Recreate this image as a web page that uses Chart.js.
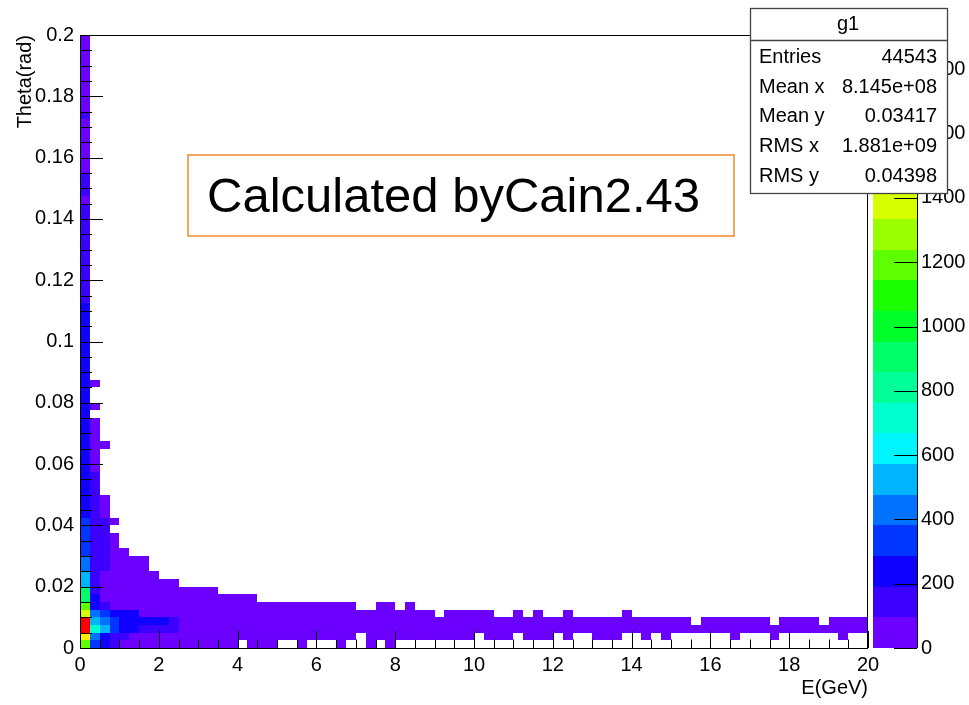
<!DOCTYPE html>
<html>
<head>
<meta charset="utf-8">
<script src="https://cdn.jsdelivr.net/npm/chart.js@4.4.0/dist/chart.umd.min.js"></script>
<style>
  body { margin: 0; background: #fff; }
</style>
</head>
<body>
<canvas id="h2" width="969" height="705"></canvas>
<script>
// g1 : Theta vs E, 80 x 80 bins (0.25 GeV x 0.0025 rad)
const eMax = 20, nE = 80
const thMax = 0.2, nTh = 80
const zMax = 1907
const nLevels = 20

// ROOT palette, one colour per contour level (bottom -> top)
const palette = ['#6b00ff', '#3c00ff', '#1000ff', '#0036ff', '#0072ff', '#00b4ff', '#00f6ff', '#00ffce',
  '#00ff98', '#00ff68', '#00ff2a', '#1cff00', '#5eff00', '#9aff00', '#d6ff00', '#ffee00',
  '#ffb400', '#ff7800', '#ff3c00', '#ff0000']

// counts in the first E bin (0-0.25 GeV), theta bin 0 upward
const firstBin = [1200, 1480, 1816, 1813, 1380, 1200, 880, 860, 520, 510,
  420, 410, 350, 330, 320, 300, 300, 270, 250, 240,
  240, 230, 250, 230, 220, 240, 230, 220, 210, 230,
  220, 210, 200, 220, 210, 200, 210, 195, 200, 205,
  195, 200, 192, 198, 194, 170, 160, 150, 165, 155,
  150, 160, 145, 150, 140, 150, 145, 160, 80, 150,
  140, 135, 90, 85, 80, 75, 70, 85, 80, 110,
  80, 75, 70, 60, 70, 65, 60, 55, 60, 50]

// second E bin (0.25-0.5 GeV), 0 = empty
const secondBin = [330, 420, 700, 520, 430, 230, 220, 150, 150, 150,
  150, 150, 140, 140, 140, 130, 130, 120, 120, 110,
  110, 100, 100, 80, 70, 70, 60, 50, 50, 40,
  0, 40, 0, 0, 30]

// third E bin (0.5-0.75 GeV)
const thirdBin = [230, 230, 520, 430, 330, 150, 60, 60, 60, 60,
  120, 120, 110, 110, 100, 100, 100, 60, 50, 50,
  0, 0, 0, 0, 0, 0, 30]

// the rest: [theta bin, first E bin, last E bin, count]
const runs = [
  [0, 3, 3, 150], [0, 4, 4, 60], [0, 5, 15, 40], [0, 17, 19, 30], [0, 22, 22, 25], [0, 26, 26, 20], [0, 29, 29, 15], [0, 31, 31, 20],
  [1, 3, 4, 150], [1, 5, 5, 60], [1, 6, 27, 40], [1, 29, 39, 30], [1, 41, 43, 25], [1, 45, 47, 25], [1, 49, 49, 20], [1, 52, 53, 20],
  [1, 54, 54, 15], [1, 57, 57, 15], [1, 59, 59, 15], [1, 66, 66, 15], [1, 70, 70, 15], [1, 77, 77, 15],
  [2, 3, 3, 330], [2, 4, 5, 230], [2, 6, 8, 150], [2, 9, 9, 120], [2, 10, 40, 60], [2, 41, 79, 40],
  [3, 3, 3, 330], [3, 4, 8, 230], [3, 9, 9, 150], [3, 10, 40, 60], [3, 41, 61, 40], [3, 63, 69, 30], [3, 71, 74, 30], [3, 76, 79, 30],
  [4, 3, 5, 200], [4, 6, 35, 40], [4, 37, 41, 25], [4, 44, 44, 15], [4, 46, 46, 15], [4, 49, 49, 15], [4, 55, 55, 15],
  [5, 3, 3, 60], [5, 4, 27, 40], [5, 30, 31, 20], [5, 33, 33, 15],
  [6, 3, 17, 40], [7, 3, 13, 40], [8, 3, 9, 40], [9, 3, 7, 40],
  [10, 3, 6, 40], [11, 3, 6, 40], [12, 3, 4, 40], [13, 3, 3, 40], [14, 3, 3, 40], [16, 3, 3, 30]
]

// stats box
const statsTitle = 'g1'
const statsLabels = ['Entries', 'Mean x', 'Mean y', 'RMS x', 'RMS y']
const statsValues = ['44543', '8.145e+08', '0.03417', '1.881e+09', '0.04398']

const cells = []
const addBin = (ie, list) => list.forEach((v, it) => { if (v > 0) cells.push({x: ie * eMax / nE, y: it * thMax / nTh, v: v}) })
addBin(0, firstBin)
addBin(1, secondBin)
addBin(2, thirdBin)
runs.forEach(r => {
  for (let ie = r[1]; ie <= r[2]; ie++) cells.push({x: ie * eMax / nE, y: r[0] * thMax / nTh, v: r[3]})
})

const levelColor = v => palette[Math.min(nLevels - 1, Math.floor(v / zMax * nLevels))]
const FONT = 'Liberation Sans, Arial, sans-serif'

// keep the plot frame where the reference has it
const fixBox = (w, h) => s => {
  if (w) s.width = w
  if (h) s.height = h
  s.paddingTop = 0; s.paddingBottom = 0; s.paddingLeft = 0; s.paddingRight = 0
}

const colzPlugin = {
  id: 'colz',
  beforeDatasetsDraw(chart) {
    const {ctx, chartArea: a, scales: {x, y}} = chart
    const ds = chart.data.datasets[0].data
    ctx.save()
    ctx.beginPath(); ctx.rect(a.left, a.top, a.right - a.left, a.bottom - a.top); ctx.clip()
    ds.forEach(c => {
      const x0 = Math.round(x.getPixelForValue(c.x)), x1 = Math.round(x.getPixelForValue(c.x + eMax / nE))
      const y0 = Math.round(y.getPixelForValue(c.y)), y1 = Math.round(y.getPixelForValue(c.y + thMax / nTh))
      ctx.fillStyle = levelColor(c.v)
      ctx.fillRect(x0, y1, x1 - x0, y0 - y1)
    })
    ctx.restore()
  },
  afterDatasetsDraw(chart) {
    const {ctx, chartArea: a, scales: {x, y, z}} = chart
    ctx.save()
    ctx.strokeStyle = '#000'
    ctx.lineWidth = 1
    ctx.strokeRect(a.left + 0.5, a.top + 0.5, a.right - a.left - 1, a.bottom - a.top)
    // ticks drawn inside the frame, ROOT style
    ctx.beginPath()
    for (let i = 0; i <= 40; i++) {
      const px = Math.round(x.getPixelForValue(i * 0.5)) + 0.5
      const len = i % 4 === 0 ? 17 : 8.5
      ctx.moveTo(px, a.bottom); ctx.lineTo(px, a.bottom - len)
    }
    for (let i = 0; i <= 40; i++) {
      const py = Math.round(y.getPixelForValue(i * 0.005)) + 0.5
      const len = i % 4 === 0 ? 23 : 12
      ctx.moveTo(a.left, py); ctx.lineTo(a.left + len, py)
    }
    ctx.stroke()

    // palette (colour bar)
    const bx0 = a.right + 5, bx1 = a.right + 49
    for (let l = 0; l < nLevels; l++) {
      const yb = Math.round(z.getPixelForValue(l * zMax / nLevels)), yt = Math.round(z.getPixelForValue((l + 1) * zMax / nLevels))
      ctx.fillStyle = palette[l]
      ctx.fillRect(bx0, yt, bx1 - bx0, yb - yt)
    }
    ctx.beginPath()
    ctx.moveTo(bx1 + 0.5, z.getPixelForValue(zMax)); ctx.lineTo(bx1 + 0.5, z.getPixelForValue(0))
    z.ticks.forEach(t => {
      const py = Math.round(z.getPixelForValue(t.value)) + 0.5
      ctx.moveTo(bx1, py); ctx.lineTo(bx1 - 23, py)
    })
    ctx.stroke()
    ctx.restore()
  },
  afterDraw(chart) {
    const {ctx} = chart
    ctx.save()
    // label box
    ctx.strokeStyle = '#ef8a2c'
    ctx.lineWidth = 1.5
    ctx.strokeRect(188, 155, 546, 81)
    ctx.fillStyle = '#000'
    ctx.font = '49px ' + FONT
    ctx.textBaseline = 'middle'
    ctx.fillText('Calculated byCain2.43', 207, 198)

    // stats box
    ctx.fillStyle = '#fff'
    ctx.fillRect(750, 8, 197, 185)
    ctx.strokeStyle = '#444'
    ctx.lineWidth = 1.3
    ctx.strokeRect(750.5, 8.5, 197, 185)
    ctx.beginPath(); ctx.moveTo(750, 40.5); ctx.lineTo(947, 40.5); ctx.stroke()
    ctx.fillStyle = '#000'
    ctx.font = '20px ' + FONT
    ctx.textAlign = 'center'
    ctx.fillText(statsTitle, 848, 24)
    const rowsY = [57, 87, 116, 146, 176]
    statsLabels.forEach((lab, i) => {
      ctx.textAlign = 'left'
      ctx.fillText(lab, 759, rowsY[i])
      ctx.textAlign = 'right'
      ctx.fillText(statsValues[i], 937, rowsY[i])
    })
    ctx.restore()
  }
}

const tickFont = {family: FONT, size: 20}
new Chart(document.getElementById('h2'), {
  type: 'scatter',
  data: {datasets: [{label: statsTitle, data: cells, pointRadius: 0, pointHoverRadius: 0}]},
  options: {
    responsive: false,
    animation: false,
    devicePixelRatio: 1,
    layout: {padding: {top: 35, left: 0, right: 0, bottom: 0}},
    plugins: {legend: {display: false}, tooltip: {enabled: false}},
    scales: {
      x: {
        type: 'linear', min: 0, max: eMax,
        grid: {display: false, drawTicks: false}, border: {display: false},
        ticks: {stepSize: 2, font: tickFont, color: '#000', padding: 5, maxRotation: 0, autoSkip: false},
        title: {display: true, text: 'E(GeV)', align: 'end', color: '#000', font: {family: FONT, size: 20}, padding: {top: 0, bottom: 5}},
        afterFit: fixBox(0, 57)
      },
      y: {
        type: 'linear', min: 0, max: thMax,
        grid: {display: false, drawTicks: false}, border: {display: false},
        ticks: {stepSize: 0.02, font: tickFont, color: '#000', padding: 6, autoSkip: false,
          callback: v => String(+v.toFixed(4))},
        title: {display: true, text: 'Theta(rad)', align: 'end', color: '#000', font: {family: FONT, size: 20}, padding: {top: 13, bottom: 0}},
        afterFit: fixBox(80, 0)
      },
      z: {
        type: 'linear', position: 'right', min: 0, max: zMax,
        grid: {display: false, drawTicks: false}, border: {display: false},
        ticks: {stepSize: 200, font: tickFont, color: '#000', padding: 53, autoSkip: false,
          callback: v => (v % 200 === 0 ? String(v) : null)},
        afterBuildTicks: s => { s.ticks = s.ticks.filter(t => t.value % 200 === 0) },
        afterFit: fixBox(101, 0)
      }
    }
  },
  plugins: [colzPlugin]
})
</script>
</body>
</html>
